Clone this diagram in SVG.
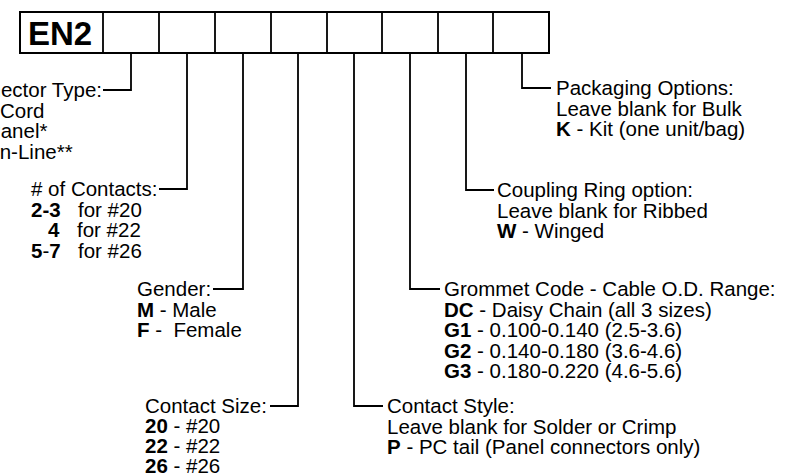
<svg xmlns="http://www.w3.org/2000/svg" width="785" height="475" viewBox="0 0 785 475">
<style>
text{font-family:"Liberation Sans",Arial,Helvetica,sans-serif;font-size:20.5px;fill:#000}
.b{font-weight:bold}
.box{fill:#fff;stroke:#000;stroke-width:2}
.ln{fill:none;stroke:#000;stroke-width:1.8}
</style>
<rect width="785" height="475" fill="#fff"/>
<g id="part-number">
<rect class="box" x="20" y="12" width="529" height="41"/>
<path class="ln" stroke-width="2" d="M103,12V53M159,12V53M215,12V53M271,12V53M327,12V53M382,12V53M438,12V53M493,12V53"/>
<text class="b" x="28" y="45" style="font-size:33px">EN2</text>
</g>
<g id="connectors">
<path class="ln" d="M131,53V90H103"/>
<path class="ln" d="M187,53V189H159"/>
<path class="ln" d="M243,53V289H213"/>
<path class="ln" d="M298,53V406H270"/>
<path class="ln" d="M354,53V406H383"/>
<path class="ln" d="M410,53V289H440"/>
<path class="ln" d="M466,53V190H494"/>
<path class="ln" d="M522,53V88H551"/>
</g>
<g id="connector-type">
<text x="102" y="97" text-anchor="end">Connector Type:</text>
<text x="0" y="117.5">Cord</text>
<text x="-13" y="138">Panel*</text>
<text x="-6" y="158.5">In-Line**</text>
</g>
<g id="contacts">
<text x="31" y="196"># of Contacts:</text>
<text x="31" y="216.5"><tspan class="b">2-3</tspan></text><text x="78" y="216.5">for #20</text>
<text x="48" y="237"><tspan class="b">4</tspan></text><text x="77" y="237">for #22</text>
<text x="31" y="257.5"><tspan class="b">5</tspan>-<tspan class="b">7</tspan></text><text x="78" y="257.5">for #26</text>
</g>
<g id="gender">
<text x="137" y="296">Gender:</text>
<text x="137" y="316.5"><tspan class="b">M</tspan> - Male</text>
<text x="137" y="337" xml:space="preserve"><tspan class="b">F</tspan> -  Female</text>
</g>
<g id="contact-size">
<text x="145" y="413">Contact Size:</text>
<text x="145" y="433"><tspan class="b">20</tspan> - #20</text>
<text x="145" y="453"><tspan class="b">22</tspan> - #22</text>
<text x="145" y="473"><tspan class="b">26</tspan> - #26</text>
</g>
<g id="contact-style">
<text x="387" y="413">Contact Style:</text>
<text x="387" y="433.5">Leave blank for Solder or Crimp</text>
<text x="387" y="454"><tspan class="b">P</tspan> - PC tail (Panel connectors only)</text>
</g>
<g id="grommet">
<text x="444" y="296">Grommet Code - Cable O.D. Range:</text>
<text x="444" y="316.5"><tspan class="b">DC</tspan> - Daisy Chain (all 3 sizes)</text>
<text x="444" y="337"><tspan class="b">G1</tspan> - 0.100-0.140 (2.5-3.6)</text>
<text x="444" y="357.5"><tspan class="b">G2</tspan> - 0.140-0.180 (3.6-4.6)</text>
<text x="444" y="378"><tspan class="b">G3</tspan> - 0.180-0.220 (4.6-5.6)</text>
</g>
<g id="coupling">
<text x="497" y="197">Coupling Ring option:</text>
<text x="497" y="217.5">Leave blank for Ribbed</text>
<text x="497" y="238"><tspan class="b">W</tspan> - Winged</text>
</g>
<g id="packaging">
<text x="556" y="95">Packaging Options:</text>
<text x="556" y="115.5">Leave blank for Bulk</text>
<text x="556" y="136"><tspan class="b">K</tspan> - Kit (one unit/bag)</text>
</g>
</svg>
